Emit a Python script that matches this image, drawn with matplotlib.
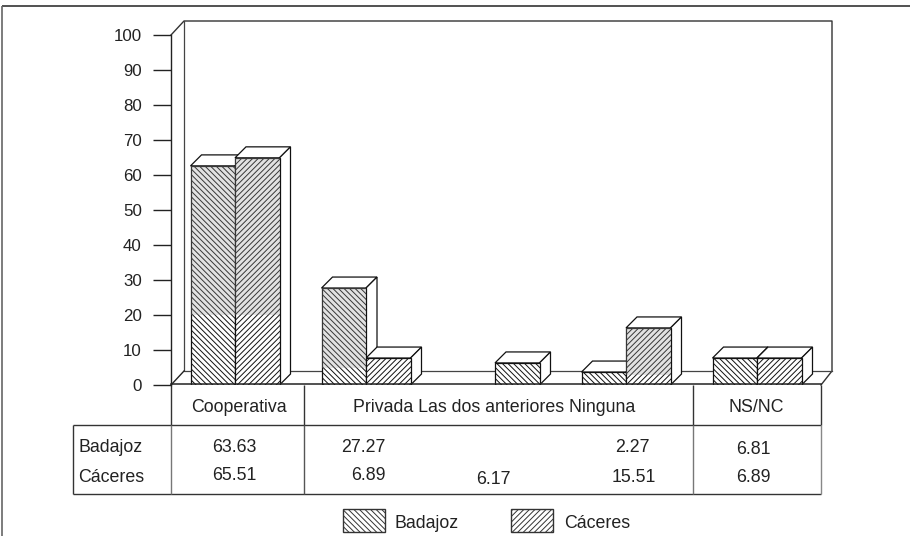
import matplotlib
matplotlib.use("Agg")
import matplotlib.pyplot as plt
from matplotlib.patches import Polygon, Rectangle

plt.rcParams['font.family'] = ['Liberation Sans', 'DejaVu Sans']
plt.rcParams['hatch.linewidth'] = 0.7

categories = ['Cooperativa', 'Privada', 'Las dos anteriores', 'Ninguna', 'NS/NC']
badajoz_bars = [62.6, 27.7, 0, 3.7, 7.7]
caceres_bars = [64.9, 7.7, 6.3, 16.3, 7.7]
badajoz_table = ['63.63', '27.27', '', '2.27', '6.81']
caceres_table = ['65.51', '6.89', '6.17', '15.51', '6.89']
y_ticks = [0, 10, 20, 30, 40, 50, 60, 70, 80, 90, 100]

W, H = 910, 536
HATCH_B, HATCH_C = '\\\\\\\\\\\\', '//////'
fig = plt.figure(figsize=(W / 100, H / 100), dpi=100)

# pixel-space overlay for frame and table
ov = fig.add_axes([0, 0, 1, 1])
ov.set_xlim(0, W); ov.set_ylim(H, 0); ov.axis('off')

L, R, T, B = 171, 821, 35, 385
ax = fig.add_axes([L / W, 1 - B / H, (R - L) / W, (B - T) / H])
ax.set_xlim(0, 5); ax.set_ylim(0, 100)
ax.patch.set_alpha(0)
for s in ['top', 'right', 'bottom']:
    ax.spines[s].set_visible(False)
ax.spines['left'].set_linewidth(1.0)
ax.spines['left'].set_color('#222222')
ax.set_xticks([])
ax.set_yticks(y_ticks)
ax.tick_params(axis='y', length=13, width=1.0, labelsize=12.2, pad=8, color='#222222',
               labelcolor='#222222')

px = 5 / (R - L); py = 100 / (B - T)
wall_dx, wall_dx_r, wall_dy = 13 * px, 11 * px, 14 * py
# back walls and floor
ax.plot([0, wall_dx, 5 + wall_dx_r, 5 + wall_dx_r, 5],
        [100, 100 + wall_dy, 100 + wall_dy, wall_dy, 0],
        color='#333333', lw=1.0, clip_on=False, zorder=1)
ax.plot([wall_dx, wall_dx, 5 + wall_dx_r], [100 + wall_dy, wall_dy, wall_dy],
        color='#444444', lw=0.9, clip_on=False, zorder=1)
ax.plot([0, wall_dx], [0, wall_dy], color='#222222', lw=1.0, clip_on=False, zorder=1)
ax.plot([0, 5], [0.2, 0.2], color='#222222', lw=1.1, clip_on=False, zorder=8)

bw = 44.5 * px
bar_dx, bar_dy = 11 * px, 11 * py
centre_shift = [-1, 0, -1, 0, 1]


def bar3d(x0, h, hatch):
    if h <= 0:
        return
    ax.bar(x0, h, width=bw, align='edge', facecolor='white', edgecolor='#111111',
           linewidth=0.9, hatch=hatch, zorder=4)
    x1 = x0 + bw
    ax.add_patch(Polygon([(x0, h), (x1, h), (x1 + bar_dx, h + bar_dy), (x0 + bar_dx, h + bar_dy)],
                         closed=True, fc='white', ec='#111111', lw=0.9, zorder=3))
    ax.add_patch(Polygon([(x1, 0), (x1, h), (x1 + bar_dx, h + bar_dy), (x1 + bar_dx, bar_dy)],
                         closed=True, fc='white', ec='#111111', lw=0.9, zorder=3))


for i in range(len(categories)):
    c = i + 0.5 + centre_shift[i] * px
    bar3d(c - bw, badajoz_bars[i], HATCH_B)
    hatch_c = HATCH_B if categories[i] == 'Las dos anteriores' else HATCH_C
    bar3d(c, caceres_bars[i], hatch_c)

# grey scan tone over the dense parts of the plates
for x0, y0, h in [(0.5 - px - bw, 20, badajoz_bars[0] - 20), (0.5 - px, 20, caceres_bars[0] - 20),
                  (1.5 - bw, 5, badajoz_bars[1] - 5), (3.5, 3, caceres_bars[3] - 3)]:
    ax.add_patch(Rectangle((x0, y0), bw, h, fc='#9a9a9a', ec='none', alpha=0.28, zorder=6))

# table
lc = '#333333'
def hl(y, a, b, lw=1.0): ov.plot([a, b], [y, y], color=lc, lw=lw, solid_capstyle='butt')
def vl(x, a, b, lw=1.0, c=lc): ov.plot([x, x], [a, b], color=c, lw=lw, solid_capstyle='butt')
hl(425, 73, 821); hl(494, 73, 821)
vl(73, 425, 494); vl(171, 385, 425); vl(171, 425, 494, c='#777777')
vl(304, 385, 425); vl(304, 425, 494, c='#555555')
vl(693, 385, 425); vl(693, 425, 494, c='#777777')
vl(821, 385, 425); vl(821, 425, 494, c='#888888')

fs = 12.75
tc = '#222222'
ov.text(238.5, 408, 'Cooperativa', fontsize=fs, ha='center', va='center', color=tc)
ov.text(494.5, 408, ' '.join(categories[1:4]), fontsize=fs, ha='center', va='center', color=tc)
ov.text(756, 408, 'NS/NC', fontsize=fs, ha='center', va='center', color=tc)
ov.text(79, 447, 'Badajoz', fontsize=fs, ha='left', va='center', color=tc)
ov.text(78, 477, 'Cáceres', fontsize=fs, ha='left', va='center', color=tc)
xb = [234, 363, 0, 632, 753]
yb = [447, 447, 0, 447, 450]
xc = [234, 368, 493, 634, 753]
yc = [475, 476, 479, 477, 477]
for i in range(5):
    if badajoz_table[i]:
        ov.text(xb[i], yb[i], badajoz_table[i], fontsize=fs, ha='center', va='center', color=tc)
    ov.text(xc[i], yc[i], caceres_table[i], fontsize=fs, ha='center', va='center', color=tc)

# legend
ov.add_patch(Rectangle((343, 509), 42, 22.5, fc='white', ec='#333333', lw=1.0, hatch=HATCH_B))
ov.add_patch(Rectangle((511, 509), 42, 22.5, fc='white', ec='#333333', lw=1.0, hatch=HATCH_C))
ov.text(394, 523, 'Badajoz', fontsize=fs, ha='left', va='center', color=tc)
ov.text(564, 523, 'Cáceres', fontsize=fs, ha='left', va='center', color=tc)

# page frame
hl(6, 2, 910, 1.2)
vl(2, 6, 536, 1.2, c='#666666')

fig.savefig('out.png', dpi=100)
